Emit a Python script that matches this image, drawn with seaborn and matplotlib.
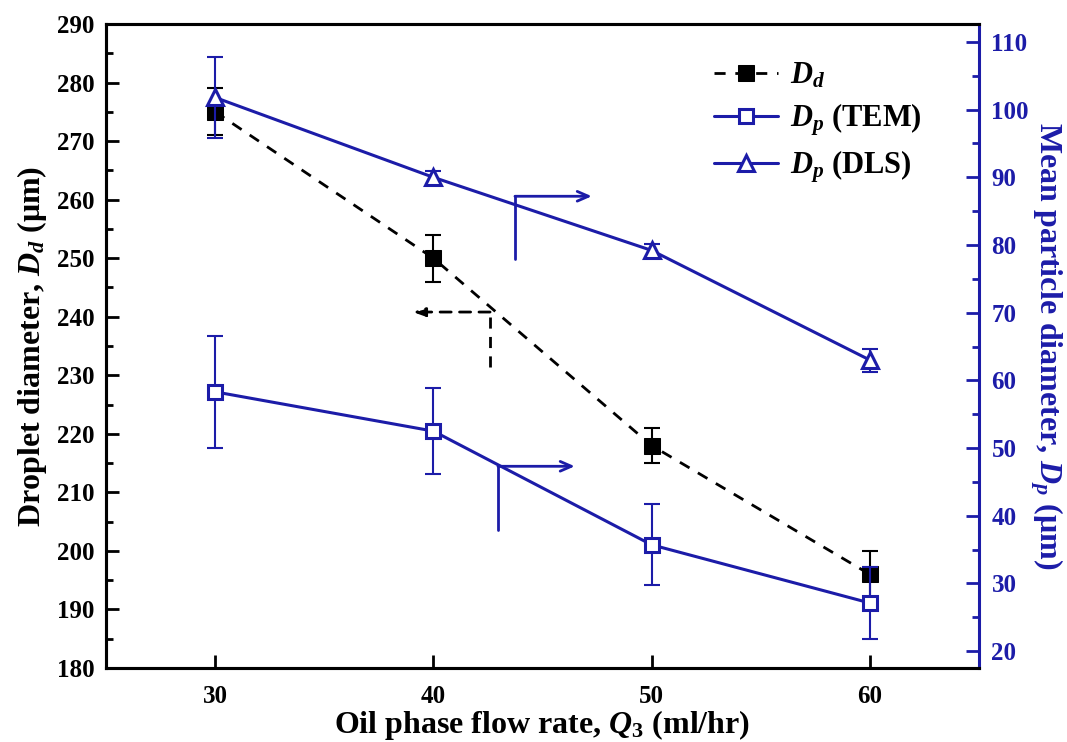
import matplotlib
matplotlib.use("Agg")
import matplotlib.pyplot as plt
import seaborn as sns
import numpy as np

# ---- data ----
flow_rate = [30, 40, 50, 60]
dd = [275, 250, 218, 196]
dd_err = [4, 4, 3, 4]
dp_tem = [58.3, 52.5, 35.7, 27.1]
dp_tem_err = [8.3, 6.3, 6.0, 5.3]
dp_dls = [101.8, 90.0, 79.2, 63.0]
dp_dls_err = [6.0, 1.0, 1.0, 1.7]

x_ticks = [30, 40, 50, 60]
left_ticks = list(range(180, 291, 10))
left_minor = list(range(185, 290, 10))
right_ticks = list(range(20, 111, 10))
right_minor = list(range(25, 111, 10))

BLUE = "#1c1ca8"

sns.set_style("ticks", {"axes.edgecolor": "black", "text.color": "black",
                        "axes.labelcolor": "black", "xtick.color": "black",
                        "ytick.color": "black"})
plt.rcParams["font.family"] = ["Liberation Serif", "DejaVu Serif"]
plt.rcParams["font.weight"] = "bold"
plt.rcParams["axes.labelweight"] = "bold"
plt.rcParams["mathtext.fontset"] = "custom"
plt.rcParams["mathtext.it"] = "Liberation Serif:italic:bold"
plt.rcParams["mathtext.rm"] = "Liberation Serif:bold"
plt.rcParams["mathtext.bf"] = "Liberation Serif:bold"

fig = plt.figure(figsize=(10.67, 7.42), dpi=100)
ax = fig.add_axes([0.0993, 0.0997, 0.8182, 0.868])
ax2 = ax.twinx()

# Droplet diameter (left axis)
ax.errorbar(flow_rate, dd, yerr=dd_err, fmt="none", ecolor="black",
            elinewidth=1.5, capsize=6, capthick=1.5, zorder=2)
sns.lineplot(x=flow_rate, y=dd, ax=ax, color="black", linestyle=(0, (4, 3.5)),
             linewidth=2, marker="s", markersize=11, markerfacecolor="black",
             markeredgecolor="black", label=r"$D_d$", legend=False, zorder=3)

# Particle diameter (right axis)
ax2.errorbar(flow_rate, dp_tem, yerr=dp_tem_err, fmt="none", ecolor=BLUE,
             elinewidth=1.5, capsize=6, capthick=1.5, zorder=2)
ax2.errorbar(flow_rate, dp_dls, yerr=dp_dls_err, fmt="none", ecolor=BLUE,
             elinewidth=1.5, capsize=6, capthick=1.5, zorder=2)
sns.lineplot(x=flow_rate, y=dp_tem, ax=ax2, color=BLUE, linewidth=2.2,
             marker="s", markersize=10, markerfacecolor="white",
             markeredgecolor=BLUE, markeredgewidth=2.2,
             label=r"$D_p$ (TEM)", legend=False, zorder=3)
sns.lineplot(x=flow_rate, y=dp_dls, ax=ax2, color=BLUE, linewidth=2.2,
             marker="^", markersize=12, markerfacecolor="white",
             markeredgecolor=BLUE, markeredgewidth=2.2,
             label=r"$D_p$ (DLS)", legend=False, zorder=3)

# ticks first, then limits
ax.set_xticks(x_ticks)
ax.set_yticks(left_ticks)
ax.set_yticks(left_minor, minor=True)
ax2.set_yticks(right_ticks)
ax2.set_yticks(right_minor, minor=True)
ax.set_xlim(25, 65)
ax.set_ylim(180, 290)
ax2.set_ylim(17.49, 112.66)

for a in (ax, ax2):
    for s in a.spines.values():
        s.set_linewidth(2.2)
        s.set_color("black")
ax.tick_params(axis="both", which="major", direction="in", length=9.5, width=2,
               labelsize=18, pad=8, right=False, top=False, colors="black")
ax.tick_params(axis="y", which="minor", direction="in", length=5, width=2, right=False,
               colors="black")
ax.tick_params(axis="x", which="minor", bottom=False, top=False)
ax.tick_params(axis="x", pad=12)
ax2.tick_params(axis="y", which="major", direction="in", length=9.5, width=2,
                labelsize=18, pad=9, colors=BLUE, left=False)
ax2.tick_params(axis="y", which="minor", direction="in", length=5, width=2,
                colors=BLUE, left=False)
ax2.spines["right"].set_color(BLUE)
ax.spines["right"].set_visible(False)
for lab in ax.get_xticklabels() + ax.get_yticklabels() + ax2.get_yticklabels():
    lab.set_fontweight("bold")

ax.set_xlabel(r"Oil phase flow rate, $Q_3$ (ml/hr)", fontsize=23, fontweight="bold",
              labelpad=0, color="black")
ax.set_ylabel(r"Droplet diameter, $D_d$ (μm)", fontsize=23, fontweight="bold",
              labelpad=6, color="black")
ax2.set_ylabel(r"Mean particle diameter, $D_p$ (μm)", fontsize=23, fontweight="bold",
               color=BLUE, rotation=270, labelpad=26)

# direction arrows
ax.plot([42.6, 42.6], [231.4, 240.8], color="black", linestyle=(0, (4, 3)), linewidth=2)
ax.annotate("", xy=(39.06, 240.8), xytext=(42.6, 240.8),
            arrowprops=dict(arrowstyle="-|>,head_length=0.7,head_width=0.25", color="black",
                            linestyle=(0, (4, 3)), linewidth=2, shrinkA=0, shrinkB=0))
ax2.plot([43.74, 43.74], [77.9, 87.2], color=BLUE, linewidth=2)
ax2.annotate("", xy=(47.26, 87.2), xytext=(43.74, 87.2),
             arrowprops=dict(arrowstyle="->,head_length=0.8,head_width=0.35", color=BLUE,
                             linewidth=2, shrinkA=0, shrinkB=0))
ax2.plot([42.96, 42.96], [37.9, 47.3], color=BLUE, linewidth=2)
ax2.annotate("", xy=(46.48, 47.3), xytext=(42.96, 47.3),
             arrowprops=dict(arrowstyle="->,head_length=0.8,head_width=0.35", color=BLUE,
                             linewidth=2, shrinkA=0, shrinkB=0))

# legend
h1, l1 = ax.get_legend_handles_labels()
h2, l2 = ax2.get_legend_handles_labels()
leg = ax2.legend(h1 + h2, l1 + l2, loc="upper left", bbox_to_anchor=(0.665, 0.985),
                 frameon=False, fontsize=22, handlelength=2.1, labelspacing=0.35,
                 handletextpad=0.4, labelcolor="black")

fig.savefig("out.png", dpi=100)
